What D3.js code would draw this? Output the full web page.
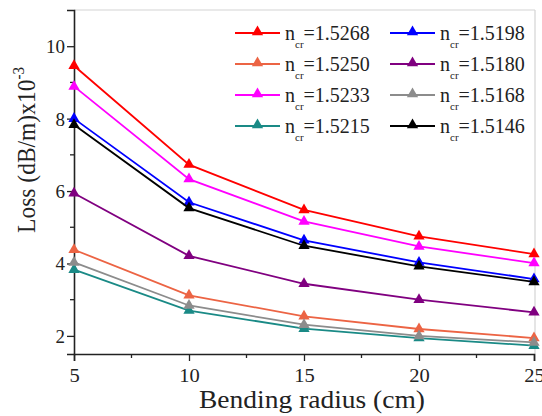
<!DOCTYPE html>
<html><head><meta charset="utf-8">
<script src="https://cdn.jsdelivr.net/npm/d3@7"></script>
<style>body{margin:0;background:#fff}svg{display:block}text{font-family:"Liberation Serif","Times New Roman",serif;fill:#222}</style>
</head><body><svg id="c" width="542" height="416"></svg>
<script>
const radius = [5, 10, 15, 20, 25];
const xTicks = [5, 10, 15, 20, 25];
const yTicks = [2, 4, 6, 8, 10];
const seriesNames = ["1.5268","1.5250","1.5233","1.5215","1.5198","1.5180","1.5168","1.5146"];
const seriesColors = ["#ff0000","#ec6444","#ff00ff","#1a8a86","#0000ff","#800080","#8c8c8c","#000000"];
const loss1_5268 = [9.46, 6.73, 5.48, 4.75, 4.26];
const loss1_5250 = [4.38, 3.12, 2.54, 2.19, 1.94];
const loss1_5233 = [8.89, 6.33, 5.16, 4.47, 4.01];
const loss1_5215 = [3.83, 2.70, 2.20, 1.94, 1.73];
const loss1_5198 = [8.00, 5.69, 4.64, 4.03, 3.57];
const loss1_5180 = [5.94, 4.21, 3.44, 3.00, 2.65];
const loss1_5168 = [4.03, 2.84, 2.31, 2.00, 1.82];
const loss1_5146 = [7.83, 5.53, 4.49, 3.92, 3.49];
const seriesValues = [loss1_5268, loss1_5250, loss1_5233, loss1_5215, loss1_5198, loss1_5180, loss1_5168, loss1_5146];

const svg = d3.select("#c");
const L = 74, R = 534, T = 10, B = 354;
const x = d3.scaleLinear().domain([5, 25]).range([L, R]);
const y = d3.scaleLinear().domain([1.5, 11]).range([B, T]);
const sx = 1.08;

// frame
svg.append("line").attr("x1", L).attr("x2", R+1).attr("y1", T).attr("y2", T).attr("stroke", "#d4d4d4").attr("stroke-width", 1.2);
svg.append("line").attr("x1", R+1).attr("x2", R+1).attr("y1", T).attr("y2", B).attr("stroke", "#d4d4d4").attr("stroke-width", 1.2);

// minor ticks
const xMinor = [7.5, 12.5, 17.5, 22.5];
const yMinor = [3, 5, 7, 9];
svg.selectAll(".xm").data(xMinor).join("line").attr("x1", d => x(d)).attr("x2", d => x(d)).attr("y1", B).attr("y2", B+4).attr("stroke", "#222").attr("stroke-width", 1.3);
svg.selectAll(".ym").data(yMinor).join("line").attr("y1", d => y(d)).attr("y2", d => y(d)).attr("x1", L).attr("x2", L-4).attr("stroke", "#222").attr("stroke-width", 1.3);

// axes
const xa = svg.append("g").attr("transform", `translate(0,${B})`).call(d3.axisBottom(x).tickValues(xTicks).tickSizeOuter(0).tickSize(7).tickFormat(d3.format("d")));
const ya = svg.append("g").attr("transform", `translate(${L},0)`).call(d3.axisLeft(y).tickValues(yTicks).tickSizeOuter(0).tickSize(7).tickFormat(d3.format("d")));
[xa, ya].forEach(g => {
  g.select(".domain").attr("stroke", "#222").attr("stroke-width", 1.6);
  g.selectAll(".tick line").attr("stroke", "#222").attr("stroke-width", 1.3);
  g.selectAll(".tick text").style("font-family", '"Liberation Serif",serif').style("font-size", "19px").attr("fill", "#222");
});
xa.selectAll(".tick text").attr("dy", null).attr("y", 28).attr("x", 0).attr("transform", `scale(${sx},1)`);
ya.selectAll(".tick text").attr("x", -9).attr("dy", "0.34em");

// titles
svg.append("text").attr("transform", `translate(312,408) scale(1.1,1)`).attr("text-anchor", "middle").style("font-size", "25px").text("Bending radius (cm)");
const yt = svg.append("text").attr("transform", `translate(35,150) scale(1.1,1) rotate(-90)`).attr("text-anchor", "middle").style("font-size", "23.5px");
yt.append("tspan").text("Loss (dB/m)x10");
yt.append("tspan").attr("dy", -10).style("font-size", "15px").text("-3");

// lines
const line = d3.line().x((d, i) => x(radius[i])).y(d => y(d));
const tri = d3.symbol().type(d3.symbolTriangle).size(55);
seriesValues.forEach((vals, k) => {
  const g = svg.append("g");
  g.append("path").datum(vals).attr("d", line).attr("fill", "none").attr("stroke", seriesColors[k]).attr("stroke-width", 1.8);
  g.selectAll("path.m").data(vals).join("path").attr("class", "m")
    .attr("transform", (d, i) => `translate(${x(radius[i])},${y(d)})`).attr("d", tri).attr("fill", seriesColors[k]);
});

// legend
const legX = [235, 390], legY = [33, 64, 95, 126];
seriesNames.forEach((n, k) => {
  const col = Math.floor(k / 4), row = k % 4;
  const lx = legX[col], ly = legY[row];
  const g = svg.append("g").attr("transform", `translate(${lx},${ly})`);
  g.append("line").attr("x1", 0).attr("x2", 45).attr("y1", 0).attr("y2", 0).attr("stroke", seriesColors[k]).attr("stroke-width", 1.8);
  g.append("path").attr("transform", "translate(22.5,-1)").attr("d", tri).attr("fill", seriesColors[k]);
  const t = g.append("text").attr("transform", `translate(50,7)`).style("font-size", "20px");
  t.append("tspan").text("n");
  t.append("tspan").attr("dy", 8).style("font-size", "11px").text("cr");
  t.append("tspan").attr("dy", -8).text("=" + n);
});
</script></body></html>
